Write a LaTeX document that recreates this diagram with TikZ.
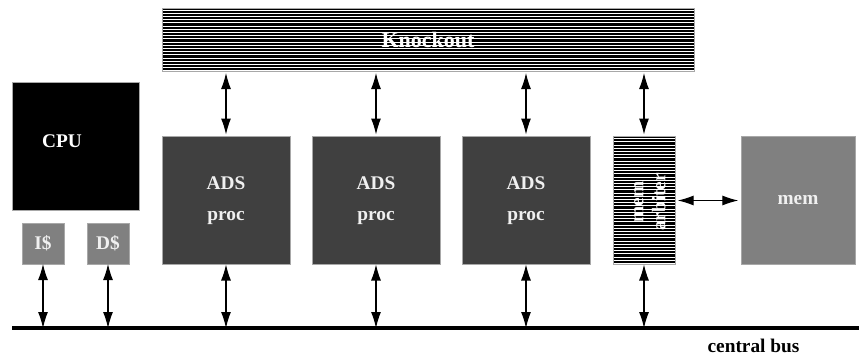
\documentclass[tikz,border=0pt]{standalone}
\usepackage{fontspec}
\setmainfont{Liberation Serif}
\usetikzlibrary{arrows.meta,calc}

\definecolor{procgray}{HTML}{404040}
\definecolor{midgray}{HTML}{808080}
\definecolor{edgegray}{HTML}{A8A8A8}
\definecolor{labelwhite}{HTML}{F0F0F0}

\tikzset{
  unit/.style={draw=edgegray, line width=0.4pt, inner sep=0pt, outer sep=0pt,
    font=\fontsize{14.5}{23}\selectfont\bfseries, text=labelwhite, align=center},
  striped/.style={unit, fill=black,
    path picture={
      \foreach \k in {0,...,45}{
        \draw[white, line width=0.8pt]
          ([yshift=-1.6pt-\k*2.4pt]path picture bounding box.north west) --
          ([yshift=-1.6pt-\k*2.4pt]path picture bounding box.north east);
      }}},
  link/.style={line width=0.8pt, {Latex[length=12pt,width=7.5pt]}-{Latex[length=12pt,width=7.5pt]}},
  bus/.style={line width=2.4pt},
  caption/.style={font=\fontsize{14.5}{17}\selectfont\bfseries, inner sep=0pt}
}

\begin{document}
\begin{tikzpicture}[x=0.75pt, y=-0.75pt]
  \useasboundingbox (0,0) rectangle (859,358);

  % switching fabric across the top
  \node[striped, minimum width=532*0.75pt, minimum height=63*0.75pt,
        font=\fontsize{16.5}{20}\selectfont\bfseries, text=white] (knock) at (428,39.5) {Knockout};

  % processor and its caches
  \node[unit, fill=black, minimum width=127*0.75pt, minimum height=128*0.75pt] (cpu) at (75.5,146) {};
  \node[caption, text=white] (cpulbl) at (62,141) {CPU};
  \node[unit, fill=midgray, minimum width=42*0.75pt, minimum height=41*0.75pt] (icache) at (43,243.5) {I\$};
  \node[unit, fill=midgray, minimum width=42*0.75pt, minimum height=41*0.75pt] (dcache) at (108,243.5) {D\$};

  % ADS processors
  \node[unit, fill=procgray, minimum width=128*0.75pt, minimum height=128*0.75pt] (ads1) at (226,200.5) {ADS\\proc};
  \node[unit, fill=procgray, minimum width=128*0.75pt, minimum height=128*0.75pt] (ads2) at (376,200.5) {ADS\\proc};
  \node[unit, fill=procgray, minimum width=128*0.75pt, minimum height=128*0.75pt] (ads3) at (526,200.5) {ADS\\proc};

  % memory arbiter and memory
  \node[striped, minimum width=62*0.75pt, minimum height=128*0.75pt] (arb) at (644,200.5) {};
  \node[caption, text=white, rotate=90, align=center,
        font=\fontsize{14.5}{16.5}\selectfont\bfseries] (arblbl) at (650,202) {mem\\arbiter};
  \node[unit, fill=midgray, minimum width=114*0.75pt, minimum height=128*0.75pt] (mem) at (798,200.5) {mem};

  % central bus
  \coordinate (busL) at (12,328);
  \coordinate (busR) at (859,328);
  \draw[bus] (busL) -- (busR);
  \node[caption, text=black] (buslbl) at (753.5,346) {central bus};

  % fabric <-> processors
  \draw[link, shorten <=1.5pt, shorten >=1.5pt] (knock.south -| ads1) -- (ads1.north);
  \draw[link, shorten <=1.5pt, shorten >=1.5pt] (knock.south -| ads2) -- (ads2.north);
  \draw[link, shorten <=1.5pt, shorten >=1.5pt] (knock.south -| ads3) -- (ads3.north);
  \draw[link, shorten <=1.5pt, shorten >=1.5pt] (knock.south -| arb) -- (arb.north);

  % arbiter <-> memory
  \draw[link, shorten <=2pt, shorten >=2pt] (arb.east) -- (mem.west);

  % units <-> bus
  \draw[link] (icache.south) -- (icache.south |- busL);
  \draw[link] (dcache.south) -- (dcache.south |- busL);
  \draw[link] (ads1.south) -- (ads1.south |- busL);
  \draw[link] (ads2.south) -- (ads2.south |- busL);
  \draw[link] (ads3.south) -- (ads3.south |- busL);
  \draw[link] (arb.south) -- (arb.south |- busL);
\end{tikzpicture}
\end{document}
